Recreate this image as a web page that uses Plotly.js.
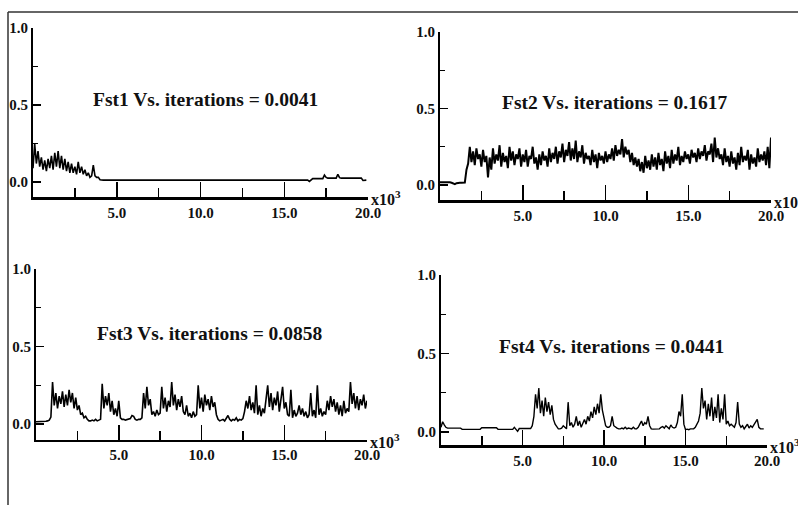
<!DOCTYPE html>
<html>
<head>
<meta charset="utf-8">
<script src="https://cdn.plot.ly/plotly-3.0.1.min.js"></script>
<style>html,body{margin:0;padding:0;background:#fff;}#chart{width:798px;height:505px;}</style>
</head>
<body>
<div id="chart"></div>
<script>
// iterations are sampled every 0.1 (x10^3)
const iterStep = 0.1;

const panelTitles = [
  "Fst1 Vs. iterations = 0.0041",
  "Fst2 Vs. iterations = 0.1617",
  "Fst3 Vs. iterations = 0.0858",
  "Fst4 Vs. iterations = 0.0441"
];
const xTickVals = [5, 10, 15];
const xTickText = ["5.0", "10.0", "15.0"];
const xEndVal = 20;
const xEndText = "20.0";
const yTickVals = [0, 0.5, 1];
const yTickText = ["0.0", "0.5", "1.0"];

const fst1 = [
  0.09,0.25,0.12,0.2,0.1,0.16,0.08,0.14,0.07,0.15,
  0.09,0.17,0.08,0.19,0.1,0.2,0.09,0.17,0.08,0.15,
  0.07,0.13,0.06,0.12,0.06,0.1,0.05,0.13,0.06,0.1,
  0.05,0.08,0.04,0.06,0.03,0.04,0.11,0.04,0.03,0.03,
  0.015,
  0.012,0.012,0.012,0.012,0.012,0.012,0.012,0.012,0.012,0.012,
  0.012,0.012,0.012,0.012,0.012,0.012,0.012,0.012,0.012,0.012,
  0.012,0.012,0.012,0.012,0.012,0.012,0.012,0.012,0.012,0.012,
  0.012,0.012,0.012,0.012,0.012,0.012,0.012,0.012,0.012,0.012,
  0.012,0.012,0.012,0.012,0.012,0.012,0.012,0.012,0.012,0.012,
  0.012,0.012,0.012,0.012,0.012,0.012,0.012,0.012,0.012,0.012,
  0.012,0.012,0.012,0.012,0.012,0.012,0.012,0.012,0.012,0.012,
  0.012,0.012,0.012,0.012,0.012,0.012,0.012,0.012,0.012,0.012,
  0.012,0.012,0.012,0.012,0.012,0.012,0.012,0.012,0.012,0.012,
  0.012,0.012,0.012,0.012,0.012,0.012,0.012,0.012,0.012,0.012,
  0.012,0.012,0.012,0.012,0.012,0.012,0.012,0.012,0.012,0.012,
  0.012,0.012,0.012,0.012,0.012,0.012,0.012,0.012,0.012,0.012,
  0.012,0.012,0.012,0.012,
  0.004,0.012,
  0.022,0.022,0.022,0.022,0.022,0.022,0.022,
  0.045,0.03,
  0.025,0.025,0.025,0.025,0.025,0.025,
  0.05,0.028,
  0.025,0.025,0.025,0.025,0.025,0.025,0.025,0.025,0.025,0.025,0.025,0.025,0.025,
  0.01,0.012,0.012
];

const fst2 = [
  0.018,0.018,0.018,0.018,0.018,0.02,0.018,0.015,0.01,0.006,0.012,0.015,0.015,0.015,0.015,0.016,
  0.1,0.14,0.25,0.15,
  0.22,0.13,0.24,0.17,0.2,0.12,0.23,0.15,0.19,0.05,
  0.18,0.1,0.24,0.14,0.2,0.16,0.26,0.12,0.21,0.15,
  0.19,0.11,0.25,0.16,0.22,0.13,0.2,0.17,0.24,0.12,
  0.2,0.15,0.23,0.12,0.19,0.17,0.25,0.14,0.18,0.1,
  0.2,0.13,0.22,0.16,0.19,0.12,0.24,0.15,0.21,0.17,
  0.25,0.14,0.22,0.18,0.27,0.15,0.23,0.19,0.28,0.16,
  0.24,0.17,0.29,0.15,0.22,0.18,0.26,0.14,0.21,0.17,
  0.19,0.13,0.23,0.15,0.2,0.11,0.21,0.16,0.19,0.14,
  0.22,0.15,0.2,0.17,0.24,0.16,0.26,0.19,0.23,0.2,
  0.3,0.18,0.25,0.2,0.23,0.15,0.21,0.13,0.18,0.12,
  0.17,0.09,0.15,0.08,0.19,0.11,0.16,0.1,0.2,0.12,
  0.18,0.1,0.21,0.13,0.17,0.09,0.22,0.14,0.19,0.11,
  0.23,0.14,0.2,0.16,0.25,0.13,0.19,0.15,0.22,0.17,
  0.2,0.14,0.23,0.18,0.21,0.15,0.24,0.17,0.22,0.19,
  0.26,0.16,0.22,0.2,0.27,0.15,0.31,0.18,0.24,0.17,
  0.2,0.13,0.24,0.15,0.19,0.12,0.22,0.14,0.18,0.1,
  0.21,0.13,0.25,0.15,0.19,0.16,0.23,0.1,0.2,0.14,
  0.18,0.12,0.24,0.15,0.2,0.16,0.22,0.13,0.25,0.11,0.31
];

const fst3 = [
  0.015,0.015,0.015,0.015,0.015,0.015,0.018,0.02,0.025,
  0.045,0.27,
  0.12,0.2,0.1,0.18,0.13,0.21,0.11,0.19,0.12,
  0.22,0.14,0.2,0.1,0.17,0.09,
  0.12,0.06,0.07,0.04,
  0.05,0.03,0.02,0.02,0.025,0.02,0.03,0.02,0.025,0.03,
  0.26,0.1,0.18,0.12,0.2,0.08,0.15,
  0.06,0.1,0.05,
  0.15,0.04,0.03,0.03,0.025,0.03,0.03,0.035,
  0.055,0.05,
  0.03,0.025,0.03,0.03,0.04,
  0.2,0.1,0.24,0.12,0.16,
  0.06,0.08,0.05,0.09,0.06,0.07,
  0.24,0.1,0.17,0.08,0.15,0.11,0.27,0.12,0.19,0.09,0.16,0.11,0.18,0.08,
  0.06,0.12,0.05,0.07,0.04,0.08,0.05,0.06,
  0.25,0.1,0.17,0.08,0.19,0.12,0.16,0.09,0.18,0.11,0.14,
  0.06,0.03,
  0.02,0.025,0.03,0.02,0.04,0.055,0.03,0.02,0.03,0.025,0.04,0.02,0.03,0.025,0.035,
  0.08,0.15,
  0.1,0.18,0.09,0.14,0.07,
  0.25,
  0.06,0.12,0.05,0.1,0.07,
  0.16,0.25,0.11,0.2,0.09,0.17,0.12,0.21,0.08,0.15,
  0.24,
  0.1,0.14,0.06,
  0.05,0.22,0.04,0.09,0.05,0.07,
  0.12,0.06,0.1,0.05,0.08,0.04,0.06,
  0.2,
  0.05,0.09,0.04,
  0.25,
  0.06,0.1,0.05,0.08,0.06,
  0.15,0.09,0.18,0.11,0.16,0.08,0.14,
  0.06,0.12,0.05,0.15,0.07,
  0.1,0.08,
  0.27,
  0.13,0.2,0.1,0.18,0.09,0.16,0.12,0.19,0.1,0.15
];

const fst4 = [
  0.03,0.065,0.045,0.03,
  0.025,0.025,0.025,0.025,0.025,0.025,0.025,0.025,0.025,
  0.017,0.017,0.017,0.017,0.017,0.017,0.017,0.017,0.017,0.017,0.017,0.017,
  0.027,0.027,0.027,0.027,0.027,0.027,0.027,0.027,0.027,0.027,
  0.017,0.017,0.017,0.017,0.017,0.017,0.017,0.017,0.017,0.017,
  0.03,0.02,0.004,
  0.022,0.022,0.022,0.022,0.022,0.022,0.022,0.022,
  0.04,0.1,0.24,0.15,0.28,
  0.12,0.2,0.1,0.22,0.13,0.19,0.11,0.17,0.08,
  0.05,0.03,0.02,
  0.02,0.025,0.04,0.03,0.02,
  0.19,
  0.04,0.06,0.03,0.05,0.1,0.04,0.07,0.03,0.06,0.08,
  0.05,0.1,0.07,0.13,0.09,0.16,0.11,0.18,0.12,
  0.24,
  0.14,0.08,0.04,0.03,
  0.03,0.04,0.1,
  0.04,0.03,0.025,0.02,0.02,0.025,0.02,0.03,0.02,0.025,0.02,0.02,0.03,0.02,
  0.02,0.03,0.05,0.07,0.04,0.06,0.05,0.1,0.04,
  0.02,0.018,0.018,0.02,0.018,0.02,0.03,
  0.035,0.025,0.04,0.03,0.02,0.045,0.03,0.025,
  0.03,0.06,0.13,0.1,0.24,
  0.05,
  0.015,0.018,0.015,0.02,0.018,0.02,
  0.03,0.05,0.07,
  0.12,0.28,
  0.15,0.2,0.08,0.18,0.1,0.22,0.07,0.16,0.09,0.24,0.06,0.15,0.08,
  0.24,
  0.05,0.07,0.04,
  0.05,0.04,0.03,0.06,
  0.19,
  0.05,0.03,0.04,0.02,0.035,0.05,0.025,0.04,0.03,0.05,
  0.06,0.08,
  0.03,0.02,0.02,0.02
];

const series = [fst1, fst2, fst3, fst4];

// ---- layout geometry (pixels -> paper fractions) ----
const W = 798, H = 505;
const panels = [
  { xd: [33, 368],  y1px: 28,  y0px: 182, yMin: -0.1,   lw: 1.6 },
  { xd: [440, 771], y1px: 32,  y0px: 185, yMin: -0.1,   lw: 2.0 },
  { xd: [36, 367],  y1px: 269, y0px: 424, yMin: -0.1,   lw: 1.6 },
  { xd: [441, 767], y1px: 275, y0px: 432, yMin: -0.085, lw: 1.4 }
];
const titlePos = [[205, 100], [614, 103], [209, 333], [611, 346]];

const serif = "Liberation Serif, Times New Roman, serif";
const tickFont = { family: serif, size: 15, color: "#111", weight: 700 };

const data = [];
const layout = {
  width: W, height: H,
  margin: { l: 0, r: 0, t: 0, b: 0, pad: 0 },
  paper_bgcolor: "#fff", plot_bgcolor: "#fff",
  showlegend: false,
  annotations: [],
  shapes: [
    { type: "line", xref: "paper", yref: "paper", x0: 8 / W, x1: 1, y0: 1 - 12 / H, y1: 1 - 12 / H, line: { color: "#333", width: 1.5 } },
    { type: "line", xref: "paper", yref: "paper", x0: 8 / W, x1: 8 / W, y0: 0, y1: 1 - 12 / H, line: { color: "#333", width: 1.5 } }
  ]
};

panels.forEach((p, i) => {
  const n = i + 1;
  const xa = "x" + n, ya = "y" + n;
  const pxPerUnit = p.y0px - p.y1px;
  const bottomPx = p.y0px - p.yMin * pxPerUnit;
  const vals = series[i];
  const xs = vals.map((_, k) => +(k * iterStep).toFixed(1));
  data.push({
    type: "scatter", mode: "lines", x: xs, y: vals,
    xaxis: xa, yaxis: ya,
    line: { color: "#000", width: p.lw }, hoverinfo: "skip"
  });
  layout["xaxis" + n] = {
    domain: [p.xd[0] / W, p.xd[1] / W], anchor: ya,
    range: [0, 20], showgrid: false, zeroline: false,
    showline: true, linecolor: "#000", linewidth: 2.5,
    tickmode: "array", tickvals: xTickVals, ticktext: xTickText,
    ticks: "inside", ticklen: 15, tickwidth: 1.5, tickcolor: "#000",
    minor: { tickmode: "array", tickvals: [2.5, 7.5, 12.5, 17.5], ticks: "inside", ticklen: 9, tickwidth: 1.5, tickcolor: "#000", showgrid: false },
    tickfont: tickFont, fixedrange: true
  };
  layout["yaxis" + n] = {
    domain: [(H - bottomPx) / H, (H - p.y1px) / H], anchor: xa,
    range: [p.yMin, 1.0], showgrid: false, zeroline: false,
    showline: true, linecolor: "#000", linewidth: 2,
    tickmode: "array", tickvals: yTickVals, ticktext: yTickText,
    ticks: "inside", ticklen: 8, tickwidth: 1.5, tickcolor: "#000",
    minor: { tickmode: "array", tickvals: [0.25, 0.75], ticks: "inside", ticklen: 5, tickwidth: 1.2, tickcolor: "#000", showgrid: false },
    tickfont: tickFont, fixedrange: true
  };
  // end-of-axis label "20.0" (no tick mark there in the reference), aligned with the axis labels
  layout.annotations.push({
    xref: xa, yref: "paper", x: xEndVal, y: 1 - (bottomPx + 15.3) / H,
    xanchor: "center", yanchor: "middle", showarrow: false,
    text: xEndText, font: tickFont
  });
  layout.annotations.push({
    xref: "paper", yref: "paper",
    x: titlePos[i][0] / W, y: 1 - titlePos[i][1] / H,
    xanchor: "center", yanchor: "middle", showarrow: false,
    text: panelTitles[i],
    font: { family: serif, size: 19.5, color: "#111", weight: 700 }
  });
  layout.annotations.push({
    xref: "paper", yref: "paper",
    x: (p.xd[1] + 1) / W, y: 1 - (bottomPx + 1) / H,
    xanchor: "left", yanchor: "middle", showarrow: false,
    text: "x10<sup>3</sup>",
    font: { family: serif, size: 16, color: "#111", weight: 700 }
  });
});

Plotly.newPlot("chart", data, layout, { staticPlot: true, displayModeBar: false });
</script>
</body>
</html>
